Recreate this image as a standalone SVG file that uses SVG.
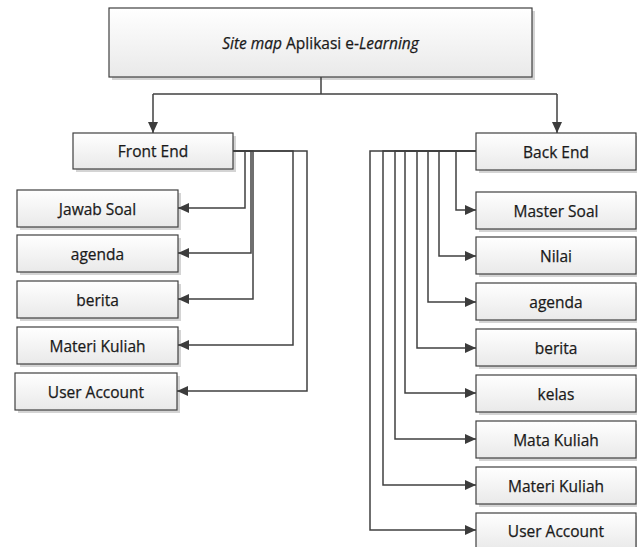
<svg xmlns="http://www.w3.org/2000/svg" width="637" height="547" viewBox="0 0 637 547">
<defs>
<linearGradient id="g" x1="0" y1="0" x2="0" y2="1">
<stop offset="0" stop-color="#ffffff"/>
<stop offset="1" stop-color="#e9e9e9"/>
</linearGradient>
<marker id="ah" markerUnits="userSpaceOnUse" markerWidth="12" markerHeight="10" refX="11" refY="5" orient="auto">
<path d="M0,0 L11,5 L0,10 Z" fill="#3c3c3c"/>
</marker>
</defs>
<style>
.box{fill:url(#g);stroke:#404040;stroke-width:1.2}
.sh{fill:#d4d4d4}
.t{font-family:"Open Sans","Noto Sans","DejaVu Sans",sans-serif;font-size:15.5px;fill:#1a1a1a;stroke:#1a1a1a;stroke-width:0.25;text-anchor:middle;dominant-baseline:central}
.c path{fill:none;stroke:#404040;stroke-width:1.5}
.c .a{marker-end:url(#ah)}
</style>
<rect width="637" height="547" fill="#ffffff"/>
<g id="root">
<rect class="sh" x="112" y="11" width="423" height="69"/>
<rect class="box" x="109" y="8" width="423" height="69"/>
<text class="t" x="320.5" y="42.5"><tspan font-style="italic">Site map</tspan> Aplikasi e-<tspan font-style="italic">Learning</tspan></text>
</g>
<g id="frontend">
<rect class="sh" x="76" y="136" width="160" height="36"/>
<rect class="box" x="73" y="133" width="160" height="36"/>
<text class="t" x="153" y="151">Front End</text>
</g>
<g id="fe-jawab">
<rect class="sh" x="20" y="193" width="161" height="37"/>
<rect class="box" x="17" y="190" width="161" height="37"/>
<text class="t" x="97.5" y="208.5">Jawab Soal</text>
</g>
<g id="fe-agenda">
<rect class="sh" x="20" y="238" width="161" height="37"/>
<rect class="box" x="17" y="235" width="161" height="37"/>
<text class="t" x="97.5" y="253.5">agenda</text>
</g>
<g id="fe-berita">
<rect class="sh" x="20" y="284" width="161" height="37"/>
<rect class="box" x="17" y="281" width="161" height="37"/>
<text class="t" x="97.5" y="299.5">berita</text>
</g>
<g id="fe-materi">
<rect class="sh" x="20" y="330" width="161" height="37"/>
<rect class="box" x="17" y="327" width="161" height="37"/>
<text class="t" x="97.5" y="345.5">Materi Kuliah</text>
</g>
<g id="fe-user">
<rect class="sh" x="18" y="376" width="162" height="37"/>
<rect class="box" x="15" y="373" width="162" height="37"/>
<text class="t" x="96" y="391.5">User Account</text>
</g>
<g id="backend">
<rect class="sh" x="479" y="136" width="160" height="37"/>
<rect class="box" x="476" y="133" width="160" height="37"/>
<text class="t" x="556" y="151.5">Back End</text>
</g>
<g id="be-master">
<rect class="sh" x="479" y="195" width="160" height="37"/>
<rect class="box" x="476" y="192" width="160" height="37"/>
<text class="t" x="556" y="210.5">Master Soal</text>
</g>
<g id="be-nilai">
<rect class="sh" x="479" y="240" width="160" height="37"/>
<rect class="box" x="476" y="237" width="160" height="37"/>
<text class="t" x="556" y="255.5">Nilai</text>
</g>
<g id="be-agenda">
<rect class="sh" x="479" y="286" width="160" height="37"/>
<rect class="box" x="476" y="283" width="160" height="37"/>
<text class="t" x="556" y="301.5">agenda</text>
</g>
<g id="be-berita">
<rect class="sh" x="479" y="332" width="160" height="37"/>
<rect class="box" x="476" y="329" width="160" height="37"/>
<text class="t" x="556" y="347.5">berita</text>
</g>
<g id="be-kelas">
<rect class="sh" x="479" y="378" width="160" height="37"/>
<rect class="box" x="476" y="375" width="160" height="37"/>
<text class="t" x="556" y="393.5">kelas</text>
</g>
<g id="be-matakuliah">
<rect class="sh" x="479" y="424" width="160" height="37"/>
<rect class="box" x="476" y="421" width="160" height="37"/>
<text class="t" x="556" y="439.5">Mata Kuliah</text>
</g>
<g id="be-materi">
<rect class="sh" x="479" y="470" width="160" height="37"/>
<rect class="box" x="476" y="467" width="160" height="37"/>
<text class="t" x="556" y="485.5">Materi Kuliah</text>
</g>
<g id="be-user">
<rect class="sh" x="479" y="516" width="160" height="37"/>
<rect class="box" x="476" y="513" width="160" height="37"/>
<text class="t" x="556" y="530.5">User Account</text>
</g>
<g id="connectors" class="c">
<path d="M321,77 V94"/>
<path d="M153,94 H557"/>
<path class="a" d="M153,94 V133"/>
<path class="a" d="M557,94 V133"/>
<path class="a" d="M233,151 H245 V208 H178"/>
<path class="a" d="M233,151 H251 V253 H178"/>
<path class="a" d="M233,151 H253 V299 H178"/>
<path class="a" d="M233,151 H293 V345 H178"/>
<path class="a" d="M233,151 H307 V391 H177"/>
<path class="a" d="M476,151 H456 V210 H476"/>
<path class="a" d="M476,151 H439 V256 H476"/>
<path class="a" d="M476,151 H428 V302 H476"/>
<path class="a" d="M476,151 H417 V348 H476"/>
<path class="a" d="M476,151 H405 V393 H476"/>
<path class="a" d="M476,151 H395 V439 H476"/>
<path class="a" d="M476,151 H383 V485 H476"/>
<path class="a" d="M476,151 H370 V530 H476"/>
</g>
</svg>
